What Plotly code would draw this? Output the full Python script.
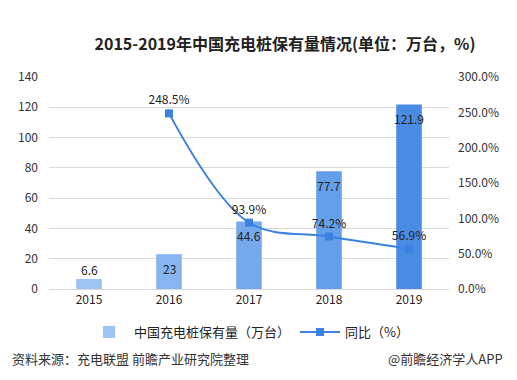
import plotly.graph_objects as go

years = ["2015", "2016", "2017", "2018", "2019"]
stock = [6.6, 23, 44.6, 77.7, 121.9]
stock_labels = ["6.6", "23", "44.6", "77.7", "121.9"]
yoy_years = ["2016", "2017", "2018", "2019"]
yoy = [248.5, 93.9, 74.2, 56.9]
bar_colors = ["#9cc3f2", "#88b5ef", "#76a9ec", "#659eea", "#4a8ce4"]
line_color = "#3b82e0"

font = "Noto Sans CJK SC"

fig = go.Figure()
fig.add_trace(go.Bar(
    x=years, y=stock, name="中国充电桩保有量（万台）",
    marker=dict(color=bar_colors, line=dict(width=0)),
    width=0.32,
))
fig.add_trace(go.Scatter(
    x=yoy_years, y=yoy, name="同比（%）", yaxis="y2",
    mode="lines+markers+text",
    line=dict(color=line_color, width=2, shape="spline", smoothing=1.0),
    marker=dict(symbol="square", size=8, color=line_color),
    text=[f"{v:.1f}%" for v in yoy],
    textposition="top center",
    textfont=dict(size=12, color="#222", family=font),
    cliponaxis=False,
))
# bar value labels: first above its bar, the rest just inside the top
# (category axis: annotation x given as category index)
for i, (v, lab) in enumerate(zip(stock, stock_labels)):
    fig.add_annotation(x=i, y=v, xref="x", yref="y", text=lab, showarrow=False,
                       yanchor="middle", yshift=10 if i == 0 else -14,
                       font=dict(size=12, color="#222", family=font))

fig.update_layout(
    width=517, height=380,
    margin=dict(l=49, r=68, t=77, b=91),
    paper_bgcolor="white", plot_bgcolor="white",
    font=dict(family=font, size=12, color="#333"),
    title=dict(text="<b>2015-2019年中国充电桩保有量情况(单位：万台，%)</b>",
               x=285 / 517, xanchor="center", y=1 - 44 / 380, yanchor="middle",
               font=dict(size=16, color="#222", family=font)),
    xaxis=dict(type="category", showgrid=False, showline=True, linecolor="#d9d9d9",
               ticks="", tickfont=dict(size=12, color="#222"), range=[-0.5, 4.5]),
    yaxis=dict(range=[0, 140], dtick=20, showgrid=True, gridcolor="#d9d9d9",
               zeroline=False, ticks="", ticklabelstandoff=10,
               tickfont=dict(size=12, color="#333")),
    yaxis2=dict(range=[0, 300], dtick=50, overlaying="y", side="right",
                showgrid=False, zeroline=False, ticksuffix="%", tickformat=".1f",
                ticklabelstandoff=8, tickfont=dict(size=12, color="#333")),
    legend=dict(orientation="h", x=0.5, xanchor="center", y=-(332 - 289) / 212, yanchor="middle",
                font=dict(size=13, color="#222"), itemwidth=40),
    showlegend=True,
)
fig.add_annotation(text="资料来源：充电联盟 前瞻产业研究院整理", xref="paper", yref="paper",
                   x=-39 / 400, xanchor="left", y=-(358 - 289) / 212, yanchor="middle",
                   showarrow=False, font=dict(size=13, color="#333"))
fig.add_annotation(text="@前瞻经济学人APP", xref="paper", yref="paper",
                   x=(505 - 49) / 400, xanchor="right", y=-(358 - 289) / 212, yanchor="middle",
                   showarrow=False, font=dict(size=13, color="#333"))

fig.write_html("out.html", config={"displayModeBar": False},
               post_script="document.body.style.margin='0';")
